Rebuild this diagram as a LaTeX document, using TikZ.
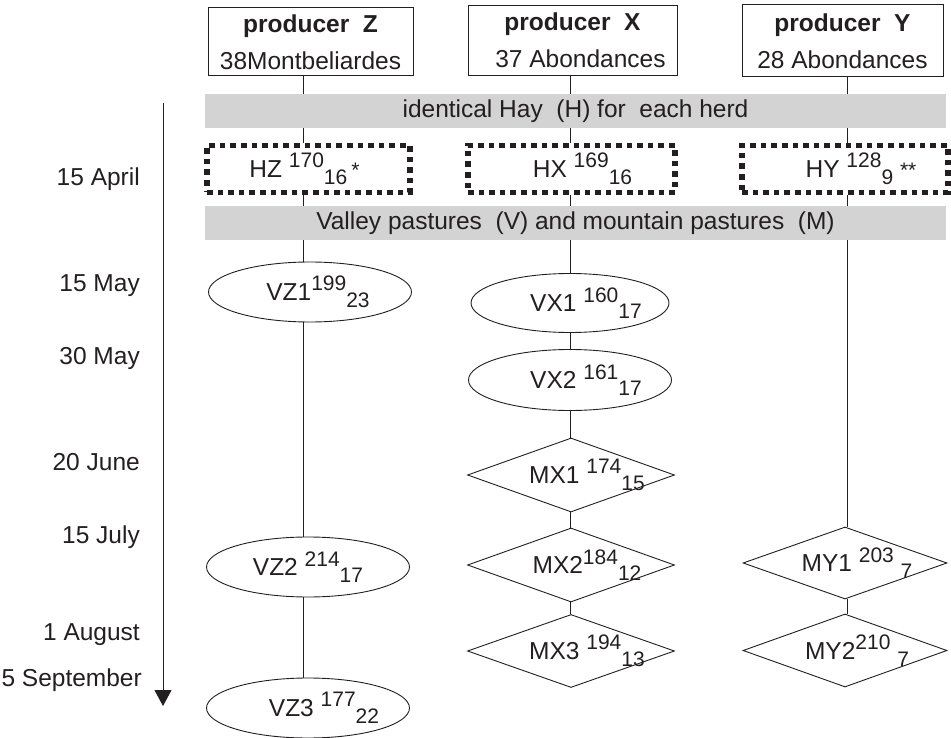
\documentclass[tikz,border=0pt]{standalone}
\usepackage{fontspec}
\setmainfont{Liberation Sans}
\usetikzlibrary{shapes.geometric,arrows.meta}
\definecolor{bandgray}{RGB}{211,211,211}
\definecolor{ink}{RGB}{35,31,32}
\newcommand{\scfont}{\fontsize{21}{21}\selectfont}
\newcommand{\myup}[1]{\raisebox{0.4em}{\scfont #1}}
\newcommand{\mydn}[1]{\raisebox{-0.28em}{\scfont #1}}
\newcommand{\shiftx}[2]{\hspace*{#1}#2\hspace*{-#1}}
\begin{document}
\begin{tikzpicture}[x=1pt,y=-1pt,
  every node/.style={font=\fontsize{24.5}{29}\selectfont, text=ink},
  conn/.style={draw=ink, line width=0.9pt},
  prodbox/.style={draw=ink, line width=1pt, inner sep=0pt, align=center, font=\fontsize{24.5}{37}\selectfont},
  band/.style={fill=bandgray, inner sep=0pt, minimum width=741pt, minimum height=34pt},
  haybox/.style={draw=ink, line width=5.4pt, dash pattern=on 5.6pt off 5pt, minimum width=203pt, minimum height=47pt, inner sep=0pt},
  vellipse/.style={ellipse, draw=ink, line width=0.9pt, inner sep=0pt, minimum width=203pt, minimum height=60pt},
  mdiamond/.style={diamond, draw=ink, line width=0.9pt, inner sep=0pt, aspect=2.8, minimum width=206pt, minimum height=73pt},
  datelbl/.style={anchor=base east, inner sep=0pt}]
\useasboundingbox (0,0) rectangle (951,738);

% column coordinates
\coordinate (cz) at (303,0);
\coordinate (cx) at (570,0);
\coordinate (cy) at (847,0);

% producers
\node[prodbox, minimum width=205pt, minimum height=68pt] (pz) at (310.5,42) {\textbf{producer~~Z}\\38Montbeliardes};
\node[prodbox, minimum width=209pt, minimum height=70pt] (px) at (572.5,40.5) {\textbf{producer~~X}\\\shiftx{8pt}{37 Abondances}};
\node[prodbox, minimum width=201pt, minimum height=72pt] (py) at (842.5,41) {\textbf{producer~~Y}\\28 Abondances};

% bands
\node[band] (b1) at (575.5,111) {identical Hay~~(H) for~~each herd};
\node[band] (b2) at (575.5,223) {Valley pastures~~(V) and mountain pastures~~(M)};

% hay
\node[haybox] (hz) at (308.5,169) {\shiftx{-4pt}{HZ \myup{170}\mydn{16}\,{\scfont *}}};
\node[haybox, minimum width=207pt] (hx) at (571.5,169) {\shiftx{11pt}{HX \myup{169}\mydn{16}}};
\node[haybox, minimum width=206pt] (hy) at (845,169) {\shiftx{16pt}{HY \myup{128}\mydn{9}\ {\scfont **}}};

% column Z
\node[vellipse] (vz1) at (310,292) {\shiftx{8pt}{VZ1\myup{199}\mydn{23}}};
\node[vellipse] (vz2) at (308,567) {VZ2 \myup{214}\mydn{17}};
\node[vellipse] (vz3) at (308,708) {\shiftx{16pt}{VZ3 \myup{177}\mydn{22}}};

% column X
\node[vellipse, minimum width=198pt, minimum height=59pt] (vx1) at (570,303) {\shiftx{16pt}{VX1 \myup{160}\mydn{17}}};
\node[vellipse, minimum width=203pt, minimum height=61pt] (vx2) at (570,380) {\shiftx{16pt}{VX2 \myup{161}\mydn{17}}};
\node[mdiamond, minimum width=207pt, minimum height=74pt] (mx1) at (571,475) {\shiftx{16pt}{MX1 \myup{174}\mydn{15}}};
\node[mdiamond, minimum width=207pt, minimum height=74pt] (mx2) at (571,565) {\shiftx{16pt}{MX2\myup{184}\mydn{12}}};
\node[mdiamond, minimum width=207pt, minimum height=73pt] (mx3) at (571,651) {\shiftx{16pt}{MX3 \myup{194}\mydn{13}}};

% column Y
\node[mdiamond, minimum width=204pt, minimum height=72pt] (my1) at (845,563) {\shiftx{12pt}{MY1 \myup{203}\ \mydn{7}}};
\node[mdiamond, minimum width=204pt, minimum height=73pt] (my2) at (845,650.5) {\shiftx{12pt}{MY2\myup{210}\ \mydn{7}}};

% connectors column Z
\draw[conn] (pz.south -| cz) -- (b1.north -| cz);
\draw[conn] (b1.south -| cz) -- (hz.north -| cz);
\draw[conn] (hz.south -| cz) -- (b2.north -| cz);
\draw[conn] (b2.south -| cz) -- (vz1.north -| cz);
\draw[conn] (vz1.south -| cz) -- (vz2.north -| cz);
\draw[conn] (vz2.south -| cz) -- (vz3.north -| cz);
% connectors column X
\draw[conn] (px.south -| cx) -- (b1.north -| cx);
\draw[conn] (b1.south -| cx) -- (hx.north -| cx);
\draw[conn] (hx.south -| cx) -- (b2.north -| cx);
\draw[conn] (b2.south -| cx) -- (vx1.north -| cx);
\draw[conn] (vx1.south -| cx) -- (vx2.north -| cx);
\draw[conn] (vx2.south -| cx) -- (mx1.north -| cx);
\draw[conn] (mx1.south -| cx) -- (mx2.north -| cx);
\draw[conn] (mx2.south -| cx) -- (mx3.north -| cx);
% connectors column Y
\draw[conn] (py.south -| cy) -- (b1.north -| cy);
\draw[conn] (b1.south -| cy) -- (hy.north -| cy);
\draw[conn] (hy.south -| cy) -- (b2.north -| cy);
\draw[conn] (b2.south -| cy) -- (my1.north -| cy);
\draw[conn] (my1.south -| cy) -- (my2.north -| cy);

% time axis
\coordinate (atop) at (163,103);
\coordinate (abot) at (163,706);
\draw[conn, -{Triangle[width=17pt,length=16pt]}] (atop) -- (abot);

% dates
\node[datelbl] (d1) at (140,186) {15 April};
\node[datelbl] (d2) at (140,291) {15 May};
\node[datelbl] (d3) at (140,364) {30 May};
\node[datelbl] (d4) at (140,470) {20 June};
\node[datelbl] (d5) at (140,543) {15 July};
\node[datelbl] (d6) at (140,640) {1 August};
\node[datelbl] (d7) at (142,686) {5 September};
\end{tikzpicture}
\end{document}
